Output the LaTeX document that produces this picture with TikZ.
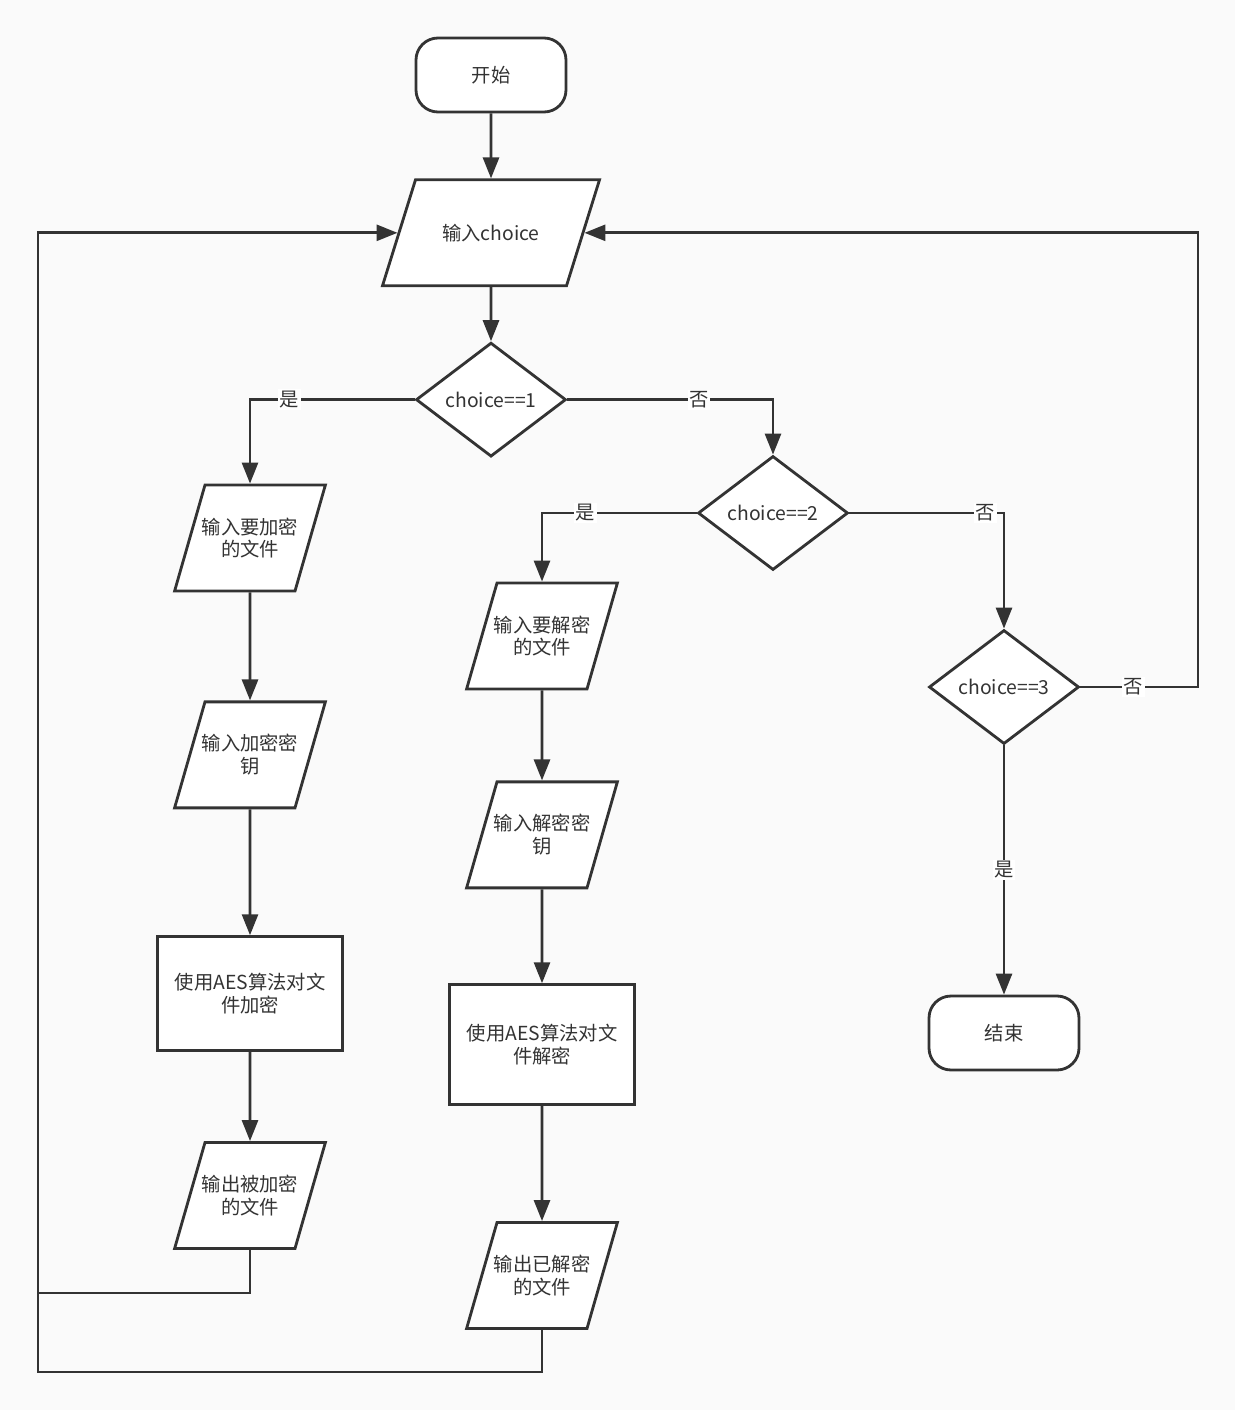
\documentclass[tikz,border=0pt]{standalone}
\usepackage{fontspec}
\setmainfont{Noto Sans CJK SC}
\usetikzlibrary{arrows.meta, positioning, shapes.geometric}
\definecolor{ink}{RGB}{51,51,51}
\definecolor{paper}{RGB}{250,250,250}
% fixed-height box for the slanted input/output nodes
\newcommand{\ioline}[2]{\parbox[c][2.12cm][c]{1.8cm}{\centering\makebox[0pt]{#1}\\\makebox[0pt]{#2}}}

\begin{document}
\begin{tikzpicture}[every node/.style={font=\fontsize{11}{13}\selectfont, text=ink},
      term/.style={draw=ink, fill=white, line width=1.6pt, rounded corners=0.44cm,
                   minimum width=3cm, minimum height=1.48cm},
      io/.style={draw=ink, fill=white, line width=1.6pt, trapezium, inner sep=0pt,
                 trapezium left angle=74, trapezium right angle=106},
      proc/.style={draw=ink, fill=white, line width=1.6pt, align=center,
                   minimum width=3.7cm, minimum height=2.28cm},
      dec/.style={draw=ink, fill=white, line width=1.6pt, diamond, shape aspect=1.3,
                  inner sep=0pt, minimum width=3cm, minimum height=2.28cm},
      lbl/.style={fill=white, inner sep=1pt},
      ln/.style={draw=ink, line width=1.6pt},
      ar/.style={ln, -{Triangle[length=0.42cm, width=0.32cm]}}]
    \fill[paper] (0,0) rectangle (24.7,-28.2);
    \useasboundingbox (0,0) rectangle (24.7,-28.2);

    % main spine
    \node[term] (start) at (9.82,-1.5) {开始};
    \node[io, trapezium left angle=72.7, trapezium right angle=107.3, below=1.30cm of start] (in)
      {\parbox[c][2.12cm][c]{3.02cm}{\centering 输入choice}};
    \node[dec, below=1.08cm of in] (d1) {choice==1};
    \node[dec] (d2) at (15.46,-10.26) {choice==2};
    \node[dec] (d3) at (20.08,-13.74) {choice==3};
    \node[term] (end) at (20.08,-20.66) {结束};

    % encrypt branch
    \node[io] (p1) at (5,-10.76) {\ioline{输入要加密}{的文件}};
    \node[io, below=2.16cm of p1] (p2) {\ioline{输入加密密}{钥}};
    \node[proc, below=2.52cm of p2] (r1) {使用AES算法对文\\件加密};
    \node[io, below=1.78cm of r1] (p4) {\ioline{输出被加密}{的文件}};

    % decrypt branch
    \node[io] (q1) at (10.84,-12.72) {\ioline{输入要解密}{的文件}};
    \node[io, below=1.80cm of q1] (q2) {\ioline{输入解密密}{钥}};
    \node[proc, minimum height=2.4cm, below=1.88cm of q2] (r2) {使用AES算法对文\\件解密};
    \node[io, below=2.30cm of r2] (q4) {\ioline{输出已解密}{的文件}};

    \coordinate (jL) at (0.76,-25.86);
    \coordinate (jB) at (0.76,-27.44);
    \coordinate (jR) at (23.96,-13.74);

    \draw[ar] (start) -- (in);
    \draw[ar] (in) -- (d1);
    \draw[ar] (d1.west) -| node[lbl, pos=0.38] {是} (p1.north);
    \draw[ar] (d1.east) -| node[lbl, pos=0.32] {否} (d2.north);
    \draw[ar] (d2.west) -| node[lbl, pos=0.36] {是} (q1.north);
    \draw[ar] (d2.east) -| node[lbl, pos=0.44] {否} (d3.north);
    \draw[ar] (d3.south) -- node[lbl] {是} (end.north);
    \draw[ar] (d3.east) -- node[lbl, pos=0.45] {否} (jR) |- (in.0);

    \draw[ar] (p1) -- (p2);
    \draw[ar] (p2) -- (r1);
    \draw[ar] (r1) -- (p4);
    \draw[ar] (q1) -- (q2);
    \draw[ar] (q2) -- (r2);
    \draw[ar] (r2) -- (q4);

    % loops back to input
    \draw[ar] (p4.south) |- (jL) |- (in.180);
    \draw[ln] (q4.south) |- (jB) -- (jL);
  \end{tikzpicture}
\end{document}
